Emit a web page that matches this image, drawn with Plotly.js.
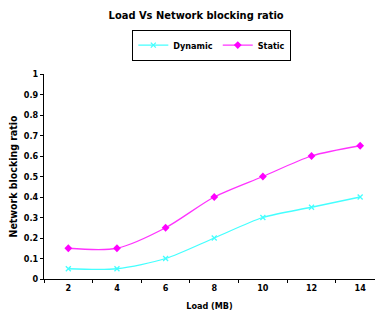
<!DOCTYPE html>
<html><head><meta charset="utf-8">
<script src="https://cdn.plot.ly/plotly-3.0.1.min.js"></script>
<style>html,body{margin:0;padding:0;background:#fff;overflow:hidden}#c{width:375px;height:324px}</style>
</head><body><div id="c"></div>
<script>
var loads = [2, 4, 6, 8, 10, 12, 14];
var dynamicRatio = [0.05, 0.05, 0.10, 0.20, 0.30, 0.35, 0.40];
var staticRatio = [0.15, 0.15, 0.25, 0.40, 0.50, 0.60, 0.65];
var yTicks = [0, 0.1, 0.2, 0.3, 0.4, 0.5, 0.6, 0.7, 0.8, 0.9, 1];
var yTickText = ['0', '0.1', '0.2', '0.3', '0.4', '0.5', '0.6', '0.7', '0.8', '0.9', '1'];
var boundaries = [1, 3, 5, 7, 9, 11, 13];

var F = '"DejaVu Sans Condensed", "Liberation Sans Narrow", Arial, sans-serif';
var traces = [
  {x: loads, y: dynamicRatio, name: '<b>Dynamic</b>', type: 'scatter', mode: 'lines+markers',
   line: {color: '#44ffff', width: 1.3, shape: 'spline', smoothing: 0.8},
   marker: {symbol: 'x-thin', size: 5, color: '#44ffff', line: {color: '#44ffff', width: 1.3}}},
  {x: loads, y: staticRatio, name: '<b>Static</b>', type: 'scatter', mode: 'lines+markers',
   line: {color: '#ff33ff', width: 1.3, shape: 'spline', smoothing: 0.8},
   marker: {symbol: 'diamond', size: 6, color: '#ff00ff'}}
];
var layout = {
  width: 375, height: 324,
  margin: {l: 44, r: 0, t: 74, b: 45},
  paper_bgcolor: '#fff', plot_bgcolor: '#fff',
  font: {family: F, color: '#000', size: 9},
  title: {text: '<b>Load Vs Network blocking ratio</b>', x: 0.523, xanchor: 'center', y: 0.953, yanchor: 'middle', font: {family: F, size: 11, color: '#000'}},
  showlegend: true,
  legend: {orientation: 'h', x: 0.507, xanchor: 'center', y: 1.141, yanchor: 'middle',
    bordercolor: '#000', borderwidth: 1, bgcolor: '#fff', font: {family: F, size: 9, color: '#000'},
    itemwidth: 30, tracegroupgap: 0},
  xaxis: {range: [1, 14.61], tickmode: 'array', tickvals: loads, ticktext: loads.map(function(v){return '<b>' + v + '</b>';}),
    ticks: '', showgrid: false, zeroline: false, showline: true, linecolor: '#000', linewidth: 1,
    tickfont: {family: F, size: 9, color: '#000'},
    minor: {tickmode: 'array', tickvals: boundaries, ticks: 'outside', ticklen: 3, tickcolor: '#000', tickwidth: 1, showgrid: false},
    title: {text: '<b>Load (MB)</b>', standoff: 10, font: {family: F, size: 9, color: '#000'}}},
  yaxis: {range: [0, 1], tickmode: 'array', tickvals: yTicks, ticktext: yTickText.map(function(v){return '<b>' + v + '</b>';}),
    ticks: 'outside', ticklen: 3, tickcolor: '#000', showgrid: false, zeroline: false, showline: true, linecolor: '#000', linewidth: 1,
    tickfont: {family: F, size: 9, color: '#000'},
    title: {text: '<b>Network blocking ratio</b>', standoff: 4, font: {family: F, size: 10.5, color: '#000'}}}
};
Plotly.newPlot('c', traces, layout, {displayModeBar: false, staticPlot: true});
</script></body></html>
